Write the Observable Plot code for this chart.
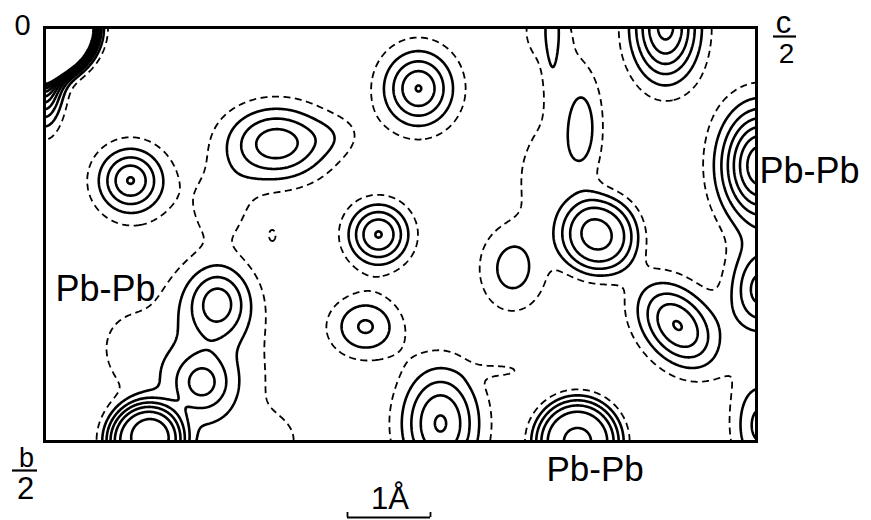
<!DOCTYPE html>
<html><head><meta charset="utf-8">
<script src="https://cdn.jsdelivr.net/npm/d3@7"></script>
<script src="https://cdn.jsdelivr.net/npm/@observablehq/plot@0.6"></script>
<style>body{margin:0;background:#fff}</style>
</head><body><div id="chart"></div>
<script>
// Section extent (frame units) : c/2 across, b/2 down
const W = 712, H = 414;

// Patterson peaks (frame coordinates, y downward)
const peakName  = ["origin","originBroad","B","C","Ctail","Clobe","D","E","F","U","GHbase","GHleft","GHbottom","G","H","I","J","Jtail","K","L","M","N","O","P","Q","R","ridgeTop","S","ridge","ridgeLow","T"];
const peakX     = [0,   0,   86,  232, 291, 176, 374, 334, 321, 228, 151, 81,  226, 158, 174, 101, 396, 461, 533, 554, 633, 621, 716, 716, 716, 539, 501, 508, 513, 496, 468];
const peakY     = [0,   40,  153, 116, 108, 178, 61,  207, 299, 208, 353, 318, 414, 355, 274, 414, 396, 343, 414, 208, 298, 0,   138, 263, 398, 100, 0,   0,   98,  153, 241];
const peakAmp   = [300, 8,   5.05,4.6, 0.7, 1.3, 5.05,5.05,3.1, 1.05,2.1, 0.8, 1.2, 2.4, 3.5, 6.3, 5.1, 1.0, 6.05,5.1, 5.05,6.3, 7.8, 4.3, 3.3, 1.9, 1.1, 1.3, 0.9, 1.0, 2.4];
const peakSx    = [26.6,18,  33,  52,  28,  35,  36,  31,  35,  6,   80,  25,  30,  28,  32,  40,  40,  30,  45,  40,  50,  34,  40,  31,  28,  20,  35,  8,   40,  30,  35];
const peakSy    = [26,  50,  33,  38,  21,  40,  39,  31,  31,  10,  105, 30,  25,  28,  36,  40,  57,  9,   45,  40,  34,  54,  58,  44,  50,  55,  40,  70,  95,  45,  45];
const peakAngle = [0,   0,   0,   0,   0,   0,   0,   0,   0,   0,   0,   0,   0,   0,   0,   0,   0,   0,   0,   0,   50,  0,   0,   0,   0,   0,   0,   0,   0,   0,   0];
const peakShape = [2,   2,   1.8, 2,   2,   2,   1.8, 2,   2,   2,   2,   2,   2,   2,   2,   4,   2,   2,   4,   3,   2,   2,   2,   2,   2,   2,   2,   2,   2,   2,   2];

const dashedLevels = [1];
const solidLevels  = [2, 3, 4, 5, 6, 7, 8, 9, 10];

const pbLabel = "Pb-Pb";
const originLabel = "0";
const cLabel = ["c", "2"];
const bLabel = ["b", "2"];
const scaleLabel = "1Å";
const scaleBar = [303, 386];

function field(x, y) {
  let v = 0;
  for (let i = 0; i < peakX.length; i++) {
    const dx = x - peakX[i], dy = y - peakY[i];
    const a = peakAngle[i] * Math.PI / 180;
    const u = (dx * Math.cos(a) + dy * Math.sin(a)) / peakSx[i];
    const w = (-dx * Math.sin(a) + dy * Math.cos(a)) / peakSy[i];
    const r2 = u * u + w * w;
    v += peakAmp[i] * Math.exp(-Math.pow(r2, peakShape[i] / 2));
  }
  return v;
}

const font = "Liberation Sans, Arial, Helvetica, sans-serif";
const chart = Plot.plot({
  width: 871, height: 520,
  marginLeft: 44, marginRight: 115, marginTop: 27, marginBottom: 79,
  x: {domain: [0, W], axis: null},
  y: {domain: [H, 0], axis: null},
  style: {fontFamily: font, background: "white", color: "black"},
  marks: [
    Plot.contour({value: field, x1: 0, y1: 0, x2: W, y2: H, thresholds: dashedLevels,
      stroke: "black", fill: "none", strokeWidth: 1.8, strokeDasharray: "7,4.5", pixelSize: 1}),
    Plot.contour({value: field, x1: 0, y1: 0, x2: W, y2: H, thresholds: solidLevels,
      stroke: "black", fill: "none", strokeWidth: 2.6, pixelSize: 1}),
    Plot.frame({stroke: "black", strokeWidth: 3}),
    // Pb-Pb labels
    Plot.text([pbLabel], {x: W, y: peakY[22] + 17, dx: 3, text: d => d, textAnchor: "start", lineAnchor: "bottom", fontSize: 36}),
    Plot.text([pbLabel], {x: 0, y: 273, dx: 11, text: d => d, textAnchor: "start", lineAnchor: "bottom", fontSize: 36}),
    Plot.text([pbLabel], {x: peakX[18], y: H, dx: -31, dy: 39, text: d => d, textAnchor: "start", lineAnchor: "bottom", fontSize: 35}),
    // corner labels
    Plot.text([originLabel], {x: 0, y: 0, dx: -30, dy: 7, text: d => d, textAnchor: "start", lineAnchor: "bottom", fontSize: 29}),
    Plot.text([cLabel[0]], {x: W, y: 0, dx: 27, dy: 5, text: d => d, textAnchor: "middle", lineAnchor: "bottom", fontSize: 31}),
    Plot.ruleY([0], {x1: W + 17, x2: W + 40, dy: 9, stroke: "black", strokeWidth: 2.2}),
    Plot.text([cLabel[1]], {x: W, y: 0, dx: 30, dy: 35, text: d => d, textAnchor: "middle", lineAnchor: "bottom", fontSize: 28}),
    Plot.text([bLabel[0]], {x: 0, y: H, dx: -18, dy: 25, text: d => d, textAnchor: "middle", lineAnchor: "bottom", fontSize: 27}),
    Plot.ruleY([H], {x1: -32, x2: -7, dy: 29, stroke: "black", strokeWidth: 2.2}),
    Plot.text([bLabel[1]], {x: 0, y: H, dx: -19, dy: 57, text: d => d, textAnchor: "middle", lineAnchor: "bottom", fontSize: 31}),
    // scale bar
    Plot.text([scaleLabel], {x: (scaleBar[0] + scaleBar[1]) / 2, y: H, dx: 1, dy: 67, text: d => d, textAnchor: "middle", lineAnchor: "bottom", fontSize: 31}),
    Plot.ruleY([H], {x1: scaleBar[0], x2: scaleBar[1], dy: 76, stroke: "black", strokeWidth: 1.8}),
    Plot.ruleX(scaleBar, {y1: H, y2: H, dy: 76, stroke: "black", strokeWidth: 1.8, insetTop: -5})
  ]
});
document.getElementById("chart").appendChild(chart);
</script>
</body></html>
